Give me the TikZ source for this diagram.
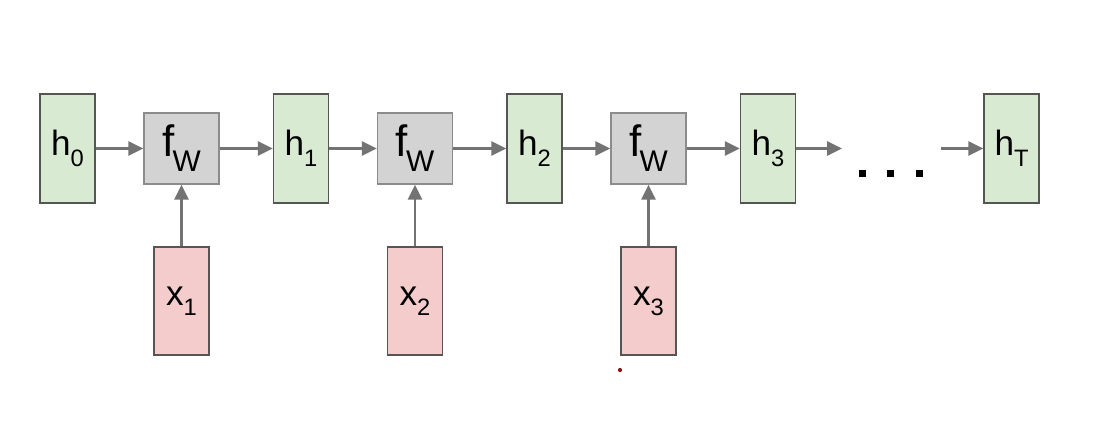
\documentclass[tikz,border=0pt]{standalone}
\usepackage{fontspec}
\setmainfont{Liberation Sans}
\usetikzlibrary{arrows.meta}
\definecolor{stategreen}{RGB}{217,234,211}
\definecolor{inputpink}{RGB}{244,204,204}
\definecolor{cellgray}{RGB}{211,211,211}
\definecolor{edgedark}{RGB}{85,85,85}
\definecolor{edgegray}{RGB}{140,140,140}
\definecolor{arrowgray}{RGB}{115,115,115}
\definecolor{markred}{RGB}{140,20,20}
\newcommand{\hlab}[1]{{\fontsize{20}{20}\selectfont h}\raisebox{-6.5pt}{\fontsize{13.5}{13.5}\selectfont #1}}
\newcommand{\xlab}[1]{{\fontsize{20}{20}\selectfont x}\raisebox{-5.7pt}{\fontsize{13.5}{13.5}\selectfont #1}}
\newcommand{\flab}{{\fontsize{25}{25}\selectfont f}\kern-1pt\raisebox{-8.5pt}{\fontsize{17}{17}\selectfont W}}
\begin{document}
\begin{tikzpicture}[x=.02cm,y=-.02cm,
    state/.style={draw=edgedark,line width=.85pt,fill=stategreen,minimum width=1.1cm,minimum height=2.18cm,inner sep=0pt},
    cell/.style={draw=edgegray,line width=.85pt,fill=cellgray,minimum width=1.5cm,minimum height=1.42cm,inner sep=0pt},
    input/.style={draw=edgedark,line width=.85pt,fill=inputpink,minimum width=1.1cm,minimum height=2.16cm,inner sep=0pt},
    flow/.style={draw=arrowgray,line width=1.4pt,-{Triangle[length=8.5pt,width=8pt]}}]
        \useasboundingbox (0,0) rectangle (1104,444);
        % hidden states, cells and inputs
        \node[state] (h0) at (67.5,148.5) {\hlab{0}};
        \foreach \i in {1,2,3} {
          \node[cell] (f\i) at ({181.5+233.5*(\i-1)},148.5) {\flab};
          \node[state] (h\i) at ({67.5+233.5*\i},148.5) {\hlab{\i}};
          \node[input] (x\i) at ({181.5+233.5*(\i-1)},301) {\xlab{\i}};
        }
        \node[state] (hT) at (1011.5,148.5) {\hlab{T}};
        % recurrence
        \foreach \i [count=\j from 0] in {1,2,3} {
          \draw[flow] (h\j) -- (f\i);
          \draw[flow] (f\i) -- (h\i);
          \draw[flow] (x\i) -- (f\i);
        }
        \coordinate (gap) at (842,148.5);
        \coordinate (resume) at (941,148.5);
        \draw[flow] (h3) -- (gap);
        \draw[flow] (resume) -- (hT);
        \foreach \x in {862,890,919} \fill ({\x-3.5},169.5) rectangle ({\x+3.5},176.5);
        \fill[markred] (620,370) circle (1.2pt);
      \end{tikzpicture}
\end{document}
